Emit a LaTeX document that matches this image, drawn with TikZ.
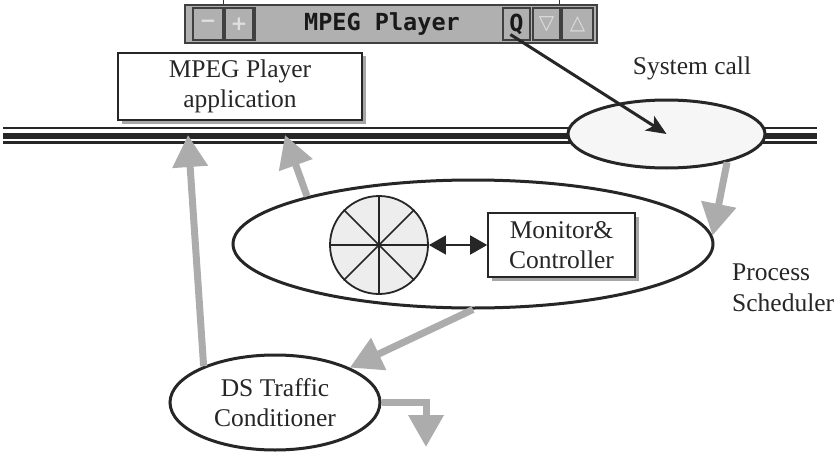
\documentclass[tikz,border=0pt]{standalone}
\usepackage{fontspec}
\setmainfont{Liberation Serif}
\newfontfamily\barfont{DejaVu Sans Mono}
\newfontfamily\symfont{DejaVu Sans}
\usetikzlibrary{shapes.geometric,arrows.meta,shadows}
\begin{document}
\begin{tikzpicture}[x=1pt,y=-1pt,
  lbl/.style={font=\fontsize{25.5}{30.5}\selectfont, align=center, text=black!85, inner sep=0pt},
  boxnode/.style={draw=black!85, line width=1.6pt, fill=white, inner sep=0pt,
    drop shadow={shadow xshift=3.5pt, shadow yshift=-3.5pt, fill=gray!70, opacity=1}},
  ovalnode/.style={ellipse, draw=black!85, line width=3pt, inner sep=0pt},
  flow/.style={draw=gray!65, line width=7pt, -{Triangle[width=34pt,length=32pt]}},
  busthin/.style={draw=black!85, line width=2.5pt},
  busthick/.style={draw=black!85, line width=6pt},
  btn/.style={draw=gray!50!black, line width=1.2pt, fill=gray!62, minimum height=32pt, inner sep=0pt},
  btnsym/.style={font=\symfont\bfseries\fontsize{20}{20}\selectfont, text=gray!25},
  spoke/.style={draw=black!85, line width=1.5pt}
]
\useasboundingbox (0,0) rectangle (840,452);

% ---- title bar of the window
\draw[gray!40!black, line width=0.8pt] (223,0) -- (223,6) (559,0) -- (559,6);
\node[draw=gray!50!black, line width=1.2pt, fill=gray!62, minimum width=412pt, minimum height=38pt, inner sep=0pt] (bar) at (391,24) {};
\node[btn, minimum width=30pt] (btnminus) at (208,24) {};
\node[btnsym] at (btnminus) {−};
\node[btn, minimum width=28pt] (btnplus) at (239,24) {};
\node[btnsym] at (btnplus) {+};
\node[btn, draw=none, minimum width=246pt] (titlearea) at (378.5,24) {};
\draw[gray!50!black, line width=1.2pt] (titlearea.north west) -- (titlearea.south west);
\node[font=\barfont\bfseries\fontsize{23.5}{24}\selectfont, text=black!90, inner sep=0pt] (title) at (382,24) {MPEG Player};
\node[btn, minimum width=27pt] (qbtn) at (516.5,24) {};
\node[font=\barfont\bfseries\fontsize{23.5}{24}\selectfont, text=black!90, inner sep=0pt] (qlet) at (qbtn) {Q};
\node[btn, minimum width=27pt] (btndown) at (546.5,24) {};
\node[btnsym, font=\symfont\fontsize{20}{20}\selectfont] at (btndown) {▽};
\node[btn, minimum width=31pt] (btnup) at (577.5,24) {};
\node[btnsym, font=\symfont\fontsize{20}{20}\selectfont] at (btnup) {△};

% ---- bus
\coordinate (busL) at (3,136);
\coordinate (busR) at (817,136);
\draw[busthin] ([yshift=8pt]busL) -- ([yshift=8pt]busR);
\draw[busthick] (busL) -- (busR);
\draw[busthin] ([yshift=-6.5pt]busL) -- ([yshift=-6.5pt]busR);

% ---- nodes
\node[boxnode, minimum width=244pt, minimum height=67pt, lbl] (app) at (240,86.5) {MPEG Player\\application};
\node[ovalnode, fill=gray!7, minimum width=197pt, minimum height=68pt] (sys) at (666.5,134) {};
\node[lbl] (syslbl) at (692,68) {System call};
\node[ovalnode, fill=white, minimum width=480pt, minimum height=128pt] (mon) at (473,244) {};
\node[circle, draw=black!85, line width=1.8pt, fill=gray!14, minimum size=98pt, inner sep=0pt] (clock) at (379,245) {};
\draw[spoke] (clock.north) -- (clock.south);
\draw[spoke] (clock.east) -- (clock.west);
\draw[spoke] (clock.45) -- (clock.225);
\draw[spoke] (clock.135) -- (clock.315);
\node[boxnode, minimum width=147pt, minimum height=64pt, lbl] (mc) at (561.5,245) {Monitor\&\\Controller};
\node[lbl, align=left, anchor=west] (sched) at (732,288) {Process\\Scheduler};
\node[ovalnode, fill=white, minimum width=210pt, minimum height=95pt, lbl] (ds) at (275,402.5) {DS Traffic\\Conditioner};

% ---- connectors
\coordinate (busA) at (188,135);
\coordinate (busB) at (285,135);
\coordinate (dsout) at (426,447);
\draw[black!85, line width=1.5pt, {Triangle[length=17pt,width=19pt]}-{Triangle[length=17pt,width=19pt]}] (clock.east) -- (mc.west);
\draw[flow] (ds.153) -- (busA);
\draw[flow] (mon.164) -- (busB);
\draw[flow] (sys.-25) -- (mon.2);
\draw[flow] (mon.south) -- (ds.25);
\draw[flow] (ds.east) -| (dsout);
\draw[black!85, line width=3pt, -{Stealth[length=20pt,width=17pt,inset=5pt]}] (qlet.240) -- (sys.center);
\end{tikzpicture}
\end{document}
